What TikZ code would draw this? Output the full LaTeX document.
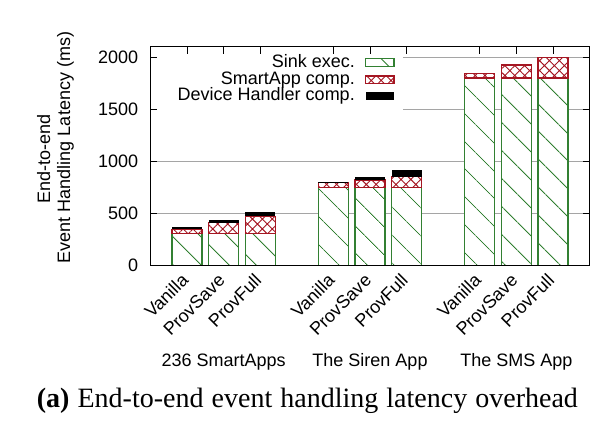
\documentclass[tikz,border=0pt]{standalone}
\usepackage{fontspec}
\setmainfont{Liberation Sans}
\newfontfamily\capfont{Liberation Serif}
\usetikzlibrary{patterns.meta}

\definecolor{sinkgreen}{RGB}{50,128,50}
\definecolor{smartred}{RGB}{165,22,34}
\definecolor{gridgray}{RGB}{165,165,165}

\tikzset{
  gridline/.style={draw=gridgray, line width=0.9bp},
  sinkfill/.style={pattern={Lines[angle=-45,distance=19.5bp,line width=0.9bp]}, pattern color=sinkgreen},
  smartfill/.style={pattern={Hatch[angle=45,distance=7bp,line width=0.9bp]}, pattern color=smartred},
  sinkedge/.style={draw=sinkgreen, line width=1.1bp},
  smartedge/.style={draw=smartred, line width=1.1bp},
  framestyle/.style={draw=black, line width=1.2bp},
  tickstyle/.style={draw=black, line width=1bp},
  lbl/.style={font=\fontsize{18bp}{20bp}\selectfont, inner sep=0pt},
  xlbl/.style={lbl, xshift=2.5bp, yshift=-15.8bp, rotate=45, anchor=base east},
}

\newcommand\stackbar[4]{%
  \pgfmathsetmacro\ya{#2}%
  \pgfmathsetmacro\yb{#2+#3}%
  \pgfmathsetmacro\yc{#2+#3+#4}%
  \fill[white] (#1-0.41,0) rectangle (#1+0.41,\yc);
  \path[sinkfill] (#1-0.41,0) rectangle (#1+0.41,\ya);
  \path[smartfill] (#1-0.41,\ya) rectangle (#1+0.41,\yb);
  \draw[sinkedge] (#1-0.41,0) rectangle (#1+0.41,\ya);
  \draw[smartedge] (#1-0.41,\ya) rectangle (#1+0.41,\yb);
  \ifdim #4pt>0pt \fill[black] (#1-0.41,\yb) rectangle (#1+0.41,\yc);\fi
}

\begin{document}
\begin{tikzpicture}[x=1bp,y=1bp]
\useasboundingbox[fill=white] (0,0) rectangle (600,422);

\begin{scope}[shift={(150.4,156.3)}, x=36.6bp, y=0.1043bp]
  % grid
  \foreach \v in {500,1000,1500,2000}
    \draw[gridline] (0,\v) -- (12,\v);
  % legend background
  \fill[white] (0,1445) rectangle (6.9,2100);
  % bars
  \stackbar{1}{310}{40}{18}
  \stackbar{2}{310}{100}{33}
  \stackbar{3}{310}{165}{40}
  \stackbar{5}{750}{45}{10}
  \stackbar{6}{750}{72}{32}
  \stackbar{7}{750}{104}{64}
  \stackbar{9}{1800}{45}{0}
  \stackbar{10}{1800}{125}{0}
  \stackbar{11}{1800}{200}{0}
  % frame
  \draw[framestyle] (0,0) rectangle (12,2100);
  % ticks
  \foreach \v in {500,1000,1500,2000} {
    \draw[tickstyle] (0,\v) -- ++(7bp,0pt);
    \draw[tickstyle] (12,\v) -- ++(-7bp,0pt);
  }
  \foreach \p in {1,2,3,5,6,7,9,10,11}
    \draw[tickstyle] (\p,2100) -- ++(0pt,-7bp);
  % y tick labels
  \foreach \v [count=\i] in {0,500,1000,1500,2000}
    \node[lbl, anchor=east, xshift=-12bp] (yt\i) at (0,\v) {\v};
  % x tick labels
  \foreach \p/\t [count=\i] in {1/Vanilla,2/ProvSave,3/ProvFull,5/Vanilla,6/ProvSave,7/ProvFull,9/Vanilla,10/ProvSave,11/ProvFull}
    \node[xlbl] (xt\i) at (\p,0) {\t};
  % group labels
  \node[lbl, anchor=base, yshift=-100.3bp] (g1) at (2,0) {236 SmartApps};
  \node[lbl, anchor=base, yshift=-100.3bp] (g2) at (6,0) {The Siren App};
  \node[lbl, anchor=base, yshift=-100.3bp] (g3) at (10,0) {The SMS App};
\end{scope}

% y axis title
\node[lbl, rotate=90, anchor=base] (ytitleA) at (50,263) {End-to-end};
\node[lbl, rotate=90, anchor=base] (ytitleB) at (70,274.5) {Event Handling Latency (ms)};

% legend
\node[lbl, anchor=base east] (legA) at (355,354.5) {Sink exec.};
\node[lbl, anchor=base east] (legB) at (355,338) {SmartApp comp.};
\node[lbl, anchor=base east] (legC) at (355,321.5) {Device Handler comp.};
\path[sinkfill] (365.7,355.3) rectangle (394,363.7);
\draw[sinkedge] (365.7,355.3) rectangle (394,363.7);
\path[smartfill] (365.7,338.7) rectangle (394,346);
\draw[smartedge] (365.7,338.7) rectangle (394,346);
\fill[black] (365.7,322) rectangle (394,330.3);

% caption
\node[anchor=base west, inner sep=0pt, font=\capfont\fontsize{28bp}{30bp}\selectfont] (cap) at (36.7,14.7)
  {\makebox[541bp][s]{\textbf{(a)} End-to-end event handling latency overhead}};
\end{tikzpicture}
\end{document}
